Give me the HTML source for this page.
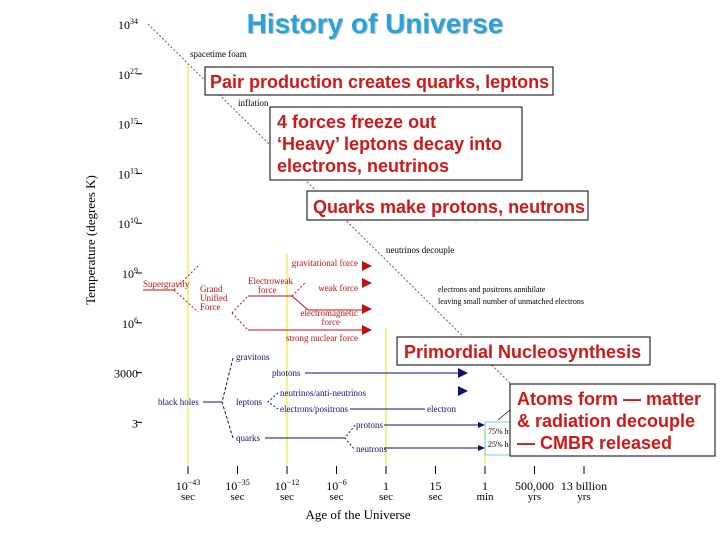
<!DOCTYPE html>
<html><head><meta charset="utf-8"><style>
body{margin:0;background:#fff}
svg{display:block}
.s{font-family:"Liberation Serif",serif}
.b{font-family:"Liberation Sans",sans-serif;font-weight:bold;fill:#d01818}
</style></head><body>
<svg id="c" width="720" height="540" viewBox="0 0 720 540">
<text x="375" y="33" text-anchor="middle" font-family="Liberation Sans" font-weight="bold" font-size="28" fill="#bbb" transform="translate(1,1)">History of Universe</text>
<text x="375" y="33" text-anchor="middle" font-family="Liberation Sans" font-weight="bold" font-size="28" fill="#2aa3dc">History of Universe</text>
<g id="grid"></g>
<line x1="148" y1="24" x2="522" y2="395" stroke="#8a3aa8" stroke-width="1" stroke-dasharray="2,2"/>
<g id="axes"></g>
<text class="s" x="0" y="0" font-size="13" transform="translate(95,240) rotate(-90)" text-anchor="middle">Temperature (degrees K)</text>
<text class="s" x="358" y="519" font-size="13" text-anchor="middle">Age of the Universe</text>
<g class="s" font-size="9" fill="#000">
<text x="190" y="57">spacetime foam</text>
<text x="238" y="106">inflation</text>
<text x="386" y="253">neutrinos decouple</text>
<text x="438" y="292" font-size="8">electrons and positrons annihilate</text>
<text x="438" y="304" font-size="8">leaving small number of unmatched electrons</text>
</g>
<g class="s" font-size="9" fill="#c01010" stroke="#c01010">
<line x1="143" y1="290" x2="174" y2="290"/>
<line x1="174" y1="290" x2="198" y2="266" stroke-dasharray="2,2"/>
<line x1="174" y1="290" x2="198" y2="312" stroke-dasharray="2,2"/>
<text x="143" y="287" stroke="none">Supergravity</text>
<text x="200" y="292" stroke="none">Grand</text>
<text x="200" y="301" stroke="none">Unified</text>
<text x="200" y="310" stroke="none">Force</text>
<line x1="232" y1="313" x2="248" y2="296" stroke-dasharray="2,2"/>
<line x1="232" y1="313" x2="248" y2="330" stroke-dasharray="2,2"/>
<line x1="248" y1="296" x2="292" y2="296"/>
<text x="248" y="284" stroke="none">Electroweak</text>
<text x="258" y="293" stroke="none">force</text>
<line x1="292" y1="296" x2="305" y2="283" stroke-dasharray="2,2"/>
<line x1="292" y1="296" x2="308" y2="310"/>
<line x1="308" y1="310" x2="364" y2="310"/>
<line x1="248" y1="330" x2="364" y2="330"/>
<text x="358" y="266" stroke="none" text-anchor="end">gravitational force</text>
<text x="358" y="291" stroke="none" text-anchor="end">weak force</text>
<text x="358" y="316" stroke="none" text-anchor="end">electromagnetic</text>
<text x="340" y="325" stroke="none" text-anchor="end">force</text>
<text x="358" y="341" stroke="none" text-anchor="end">strong nuclear force</text>
<polygon points="362,261 372,266 362,271" stroke="none"/>
<polygon points="362,278 372,283 362,288" stroke="none"/>
<polygon points="362,304 372,309 362,314" stroke="none"/>
<polygon points="362,325 372,330 362,335" stroke="none"/>
</g>
<g class="s" font-size="9" fill="#101070" stroke="#101070">
<text x="158" y="405" stroke="none">black holes</text>
<line x1="203" y1="402" x2="222" y2="402"/>
<polyline points="233,358 222,402 233,438" fill="none" stroke-dasharray="3,2"/>
<text x="236" y="360" stroke="none">gravitons</text>
<text x="236" y="405" stroke="none">leptons</text>
<text x="236" y="441" stroke="none">quarks</text>
<polyline points="278,393 268,402 278,409" fill="none" stroke-dasharray="2,2"/>
<text x="280" y="396" stroke="none">neutrinos/anti-neutrinos</text>
<text x="280" y="412" stroke="none">electrons/positrons</text>
<line x1="350" y1="409" x2="425" y2="409"/>
<text x="427" y="412" stroke="none">electron</text>
<text x="272" y="376" stroke="none">photons</text>
<line x1="305" y1="373" x2="460" y2="373"/>
<polygon points="458,368 468,373 458,378" stroke="none"/>
<polygon points="458,386 468,391 458,396" stroke="none"/>
<line x1="265" y1="438" x2="345" y2="438"/>
<polyline points="355,425 345,438 355,450" fill="none" stroke-dasharray="2,2"/>
<text x="356" y="428" stroke="none">protons</text>
<text x="356" y="452" stroke="none">neutrons</text>
<line x1="384" y1="425" x2="480" y2="425"/>
<line x1="384" y1="448" x2="480" y2="448"/>
<polygon points="478,422 485,425 478,428" stroke="none"/>
<polygon points="478,445 485,448 478,451" stroke="none"/>
</g>
<rect x="485" y="422" width="30" height="33" fill="none" stroke="#6cd0e0"/>
<text class="s" x="488" y="434" font-size="8">75% h</text>
<text class="s" x="488" y="447" font-size="8">25% h</text>
<line x1="498" y1="420" x2="510" y2="410" stroke="#000" stroke-width="0.7"/>
<g>
<rect x="205" y="67" width="348" height="28" fill="#fff" stroke="#000"/>
<text class="b" x="210" y="88" font-size="18">Pair production creates quarks, leptons</text>
<rect x="270" y="107" width="252" height="73" fill="#fff" stroke="#000"/>
<text class="b" x="277" y="128" font-size="18">4 forces freeze out</text>
<text class="b" x="277" y="150" font-size="18">‘Heavy’ leptons decay into</text>
<text class="b" x="277" y="172" font-size="18">electrons, neutrinos</text>
<rect x="307" y="191" width="281" height="29" fill="#fff" stroke="#000"/>
<text class="b" x="313" y="213" font-size="18">Quarks make protons, neutrons</text>
<rect x="397" y="337" width="253" height="28" fill="#fff" stroke="#000"/>
<text class="b" x="404" y="358" font-size="18">Primordial Nucleosynthesis</text>
<rect x="510" y="384" width="205" height="72" fill="#fff" stroke="#000"/>
<text class="b" x="517" y="405" font-size="18">Atoms form — matter</text>
<text class="b" x="517" y="427" font-size="18">&amp; radiation decouple</text>
<text class="b" x="517" y="449" font-size="18">— CMBR released</text>
</g>
</svg>
<script>
const yTickLabels=["10","10","10","10","10","10","10","3000","3"];
const yTickExps=["34","27","15","13","10","9","6","",""];
const xTickTop=["10","10","10","10","1","15","1","500,000","13 billion"];
const xTickExps=["−43","−35","−12","−6","","","","",""];
const xTickBottom=["sec","sec","sec","sec","sec","sec","min","yrs","yrs"];
const eraIndex=[0,2,4,6];
const eraTopTick=[0.8,4.6,6.1,8.15];
const NS="http://www.w3.org/2000/svg";
const yPos=i=>24+i*49.8;
const xPos=i=>188+i*49.5;
const axes=document.getElementById('axes'),grid=document.getElementById('grid');
function mk(tag,attrs,parent,txt){const e=document.createElementNS(NS,tag);for(const k in attrs)e.setAttribute(k,attrs[k]);if(txt!==undefined)e.textContent=txt;parent.appendChild(e);return e;}
yTickLabels.forEach((l,i)=>{
 const t=mk('text',{x:138,y:yPos(i)+5,'text-anchor':'end','font-family':'Liberation Serif','font-size':12},axes);
 
 
 t.appendChild(document.createTextNode(l));
 if(yTickExps[i]){const s=mk('tspan',{dy:-5,'font-size':8},t,yTickExps[i]);}
 if(i>0){const ln=mk('line',{x1:136,x2:142,y1:yPos(i),y2:yPos(i),stroke:'#000'},axes);
 
 }
});
xTickTop.forEach((l,i)=>{
 const x=xPos(i);
 const tk=mk('line',{x1:x,x2:x,y1:466,y2:474,stroke:'#000'},axes);
 
 
 const t=mk('text',{x:x,y:490,'text-anchor':'middle','font-family':'Liberation Serif','font-size':12},axes);
 
 
 t.appendChild(document.createTextNode(l));
 if(xTickExps[i])mk('tspan',{dy:-5,'font-size':8},t,xTickExps[i]);
 const b=mk('text',{x:x,y:500,'text-anchor':'middle','font-family':'Liberation Serif','font-size':11},axes,xTickBottom[i]);
 
 
});
eraIndex.forEach((xi,k)=>{
 const x=xPos(xi);
 const l=mk('line',{x1:x,x2:x,y1:yPos(eraTopTick[k]),y2:465,stroke:'#f2ee60','stroke-width':1.5},grid);
 
 
});
</script>
</body></html>
